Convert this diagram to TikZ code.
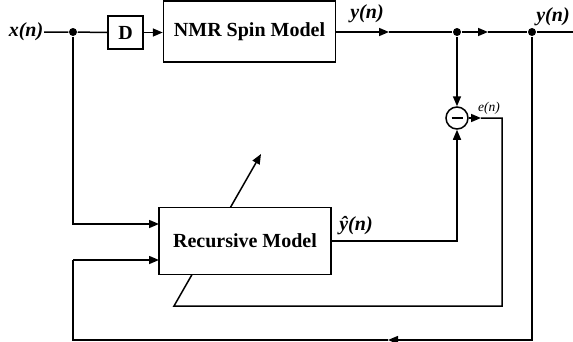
\documentclass[tikz,border=0pt]{standalone}
\usepackage{fontspec}
\setmainfont{Liberation Serif}
\usetikzlibrary{arrows.meta}
\begin{document}
\begin{tikzpicture}[x=1pt,y=-1pt,line width=1.5pt,
  >={Triangle[length=10pt,width=8pt]},
  blk/.style={draw,fill=white,inner sep=0pt,font=\fontsize{20}{23}\selectfont\bfseries},
  dot/.style={circle,fill,inner sep=0pt,minimum size=8pt},
  lbl/.style={font=\fontsize{20}{23}\selectfont\bfseries\itshape,inner sep=0pt},
  sml/.style={font=\fontsize{13.5}{15}\selectfont\itshape,inner sep=0pt}]
\useasboundingbox (0,0) rectangle (573,341);
% top row
\node[lbl,anchor=east] (xin) at (44,32) {x(n)};
\node[dot] (d1) at (73,32) {};
\node[blk,minimum width=35pt,minimum height=33pt] (D) at (125.5,32.5) {D};
\node[blk,minimum width=172pt,minimum height=61pt] (nmr) at (249.5,31.5) {NMR Spin Model};
\coordinate (a1) at (389,32);
\node[dot] (d2) at (457,32) {};
\coordinate (a2) at (488,32);
\node[dot] (d3) at (532,32) {};
\coordinate (yout) at (573,32);
\node[lbl] (ylab) at (367,14) {y(n)};
\node[lbl] (ylab2) at (553,17) {y(n)};
% subtractor
\node[circle,draw,minimum size=22pt,inner sep=0pt,
  path picture={\draw[line width=2.4pt] ([xshift=-5.5pt]path picture bounding box.center) -- ([xshift=5.5pt]path picture bounding box.center);}] (sum) at (457,118) {};
\node[sml] (elab) at (489,108) {e(n)};
\coordinate (a3) at (481,118);
\coordinate (e1) at (502,118);
\coordinate (e2) at (502,306);
\coordinate (e3) at (174,306);
\coordinate (e4) at (261,154);
% error path and adaptation arrow (behind the model box)
\draw[->] (sum.east) -- (a3);
\draw[->] (a3) -- (e1) -- (e2) -- (e3) -- (e4);
% recursive model
\node[blk,minimum width=172pt,minimum height=67pt] (rec) at (245,241) {Recursive Model};
\node[lbl] (yhat) at (356,226) {\^{y}(n)};
% left inputs
\coordinate (l1) at (73,224);
\coordinate (l2) at (73,260);
\coordinate (r1) at (159,224);
\coordinate (r2) at (159,260);
\coordinate (bl) at (73,340);
\coordinate (br) at (532,340);
\coordinate (ab) at (388,340);
% connectors
\draw (xin.east) -- (d1) -- (D.west);
\draw[->] (D.east) -- (nmr.west |- D.east);
\draw[->] (nmr.east |- d2) -- (a1);
\draw (a1) -- (d2);
\draw[->] (d2) -- (a2);
\draw (a2) -- (d3) -- (yout);
\draw[->] (d2) -- (sum.north);
\draw[->] (rec.east) -| (sum.south);
\draw[->] (d1) -- (l1) -- (r1);
\draw[->] (d3) -- (br) -- (ab);
\draw (ab) -- (bl) -- (l2);
\draw[->] (l2) -- (r2);
\end{tikzpicture}
\end{document}
